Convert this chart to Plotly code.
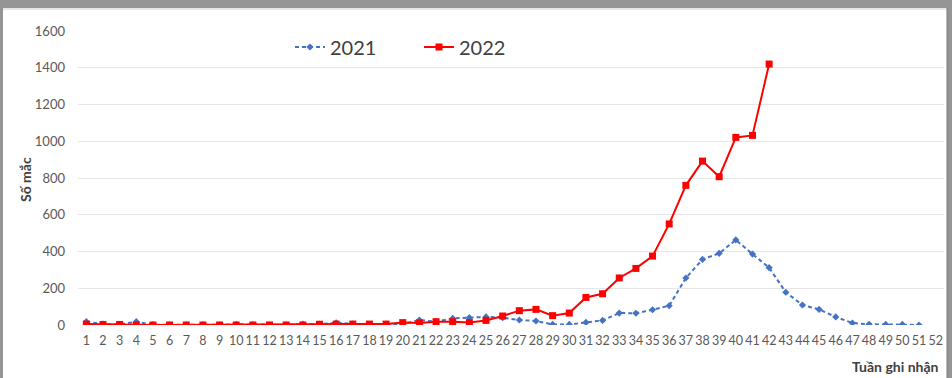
import plotly.graph_objects as go

weeks_2021 = list(range(1, 52))
cases_2021 = [18, 5, 3, 18, 2, 1, 1, 1, 1, 4, 2, 1, 1, 5, 5, 12, 6, 2, 5, 5,
              27, 18, 36, 40, 44, 40, 27, 22, 3, 3, 14, 25, 65, 64, 83, 105,
              256, 357, 390, 463, 386, 312, 178, 109, 85, 44, 11, 4, 3, 3, 0]
weeks_2022 = list(range(1, 43))
cases_2022 = [5, 3, 3, 0, 0, 0, 0, 0, 0, 0, 0, 0, 0, 0, 4, 5, 5, 5, 5, 13,
              11, 18, 18, 13, 25, 49, 78, 85, 51, 65, 150, 170, 256, 308, 375,
              550, 760, 892, 807, 1021, 1032, 1420]
x_ticks = list(range(1, 53))
y_ticks = list(range(0, 1601, 200))

FONT = "Lato, 'Open Sans', sans-serif"

fig = go.Figure()
fig.add_trace(go.Scatter(
    x=weeks_2021, y=cases_2021, name="2021", mode="lines+markers",
    line=dict(color="#4472C4", width=2, dash="4px,3px"),
    marker=dict(symbol="diamond", size=5.5, color="#4472C4"),
))
fig.add_trace(go.Scatter(
    x=weeks_2022, y=cases_2022, name="2022", mode="lines+markers",
    line=dict(color="#FF0000", width=2),
    marker=dict(symbol="square", size=7, color="#FF0000"),
))

W, H = 952, 378
L, R, T, B = 78, 8, 31, 53
pw, ph = W - L - R, H - T - B


def px(x):
    return (x - L) / pw


def py(y):
    return (H - B - y) / ph


fig.update_layout(
    width=W, height=H,
    margin=dict(l=L, r=R, t=T, b=B),
    paper_bgcolor="#959595",
    plot_bgcolor="white",
    font=dict(family=FONT, color="#595959"),
    showlegend=True,
    legend=dict(
        orientation="h", x=px(290), y=py(47), xanchor="left", yanchor="middle",
        font=dict(size=20, color="#404040", family=FONT),
        bgcolor="rgba(0,0,0,0)", entrywidth=84, itemwidth=30,
    ),
    shapes=[
        dict(type="rect", xref="paper", yref="paper",
             x0=px(3), x1=px(947), y0=py(378), y1=py(8),
             fillcolor="white", line=dict(width=0), layer="below"),
        dict(type="line", xref="paper", yref="paper",
             x0=px(3), x1=px(947), y0=py(9), y1=py(9),
             line=dict(color="#E6E6E6", width=2), layer="below"),
        dict(type="line", xref="paper", yref="paper",
             x0=px(947), x1=px(947), y0=py(378), y1=py(8),
             line=dict(color="#7A7A7A", width=1), layer="below"),
    ],
    annotations=[
        dict(text="<b>Tuần ghi nhận</b>", xref="paper", yref="paper",
             x=px(941), y=py(366), xanchor="right", yanchor="middle",
             showarrow=False, font=dict(size=14, color="#404040", family=FONT)),
        dict(text="<b>Số mắc</b>", xref="paper", yref="paper",
             x=px(25), y=py(180), xanchor="center", yanchor="middle",
             textangle=-90, showarrow=False,
             font=dict(size=14, color="#404040", family=FONT)),
    ],
)
fig.update_xaxes(
    range=[0.5, 52.5], tickmode="array", tickvals=x_ticks,
    ticktext=[str(v) for v in x_ticks], showgrid=False, zeroline=False,
    showline=False, ticks="", tickfont=dict(size=12.5, color="#595959"),
    ticklabelstandoff=6,
)
fig.update_yaxes(
    range=[0, 1600], tickmode="array", tickvals=y_ticks,
    showgrid=True, gridcolor="#E6E6E6", gridwidth=1, zeroline=False,
    showline=False, ticks="", tickfont=dict(size=13, color="#595959"),
    ticklabelstandoff=12,
)

fig.write_html(
    "out.html",
    config={"displayModeBar": False},
    post_script="document.body.style.margin='0';document.body.style.overflow='hidden';",
)
